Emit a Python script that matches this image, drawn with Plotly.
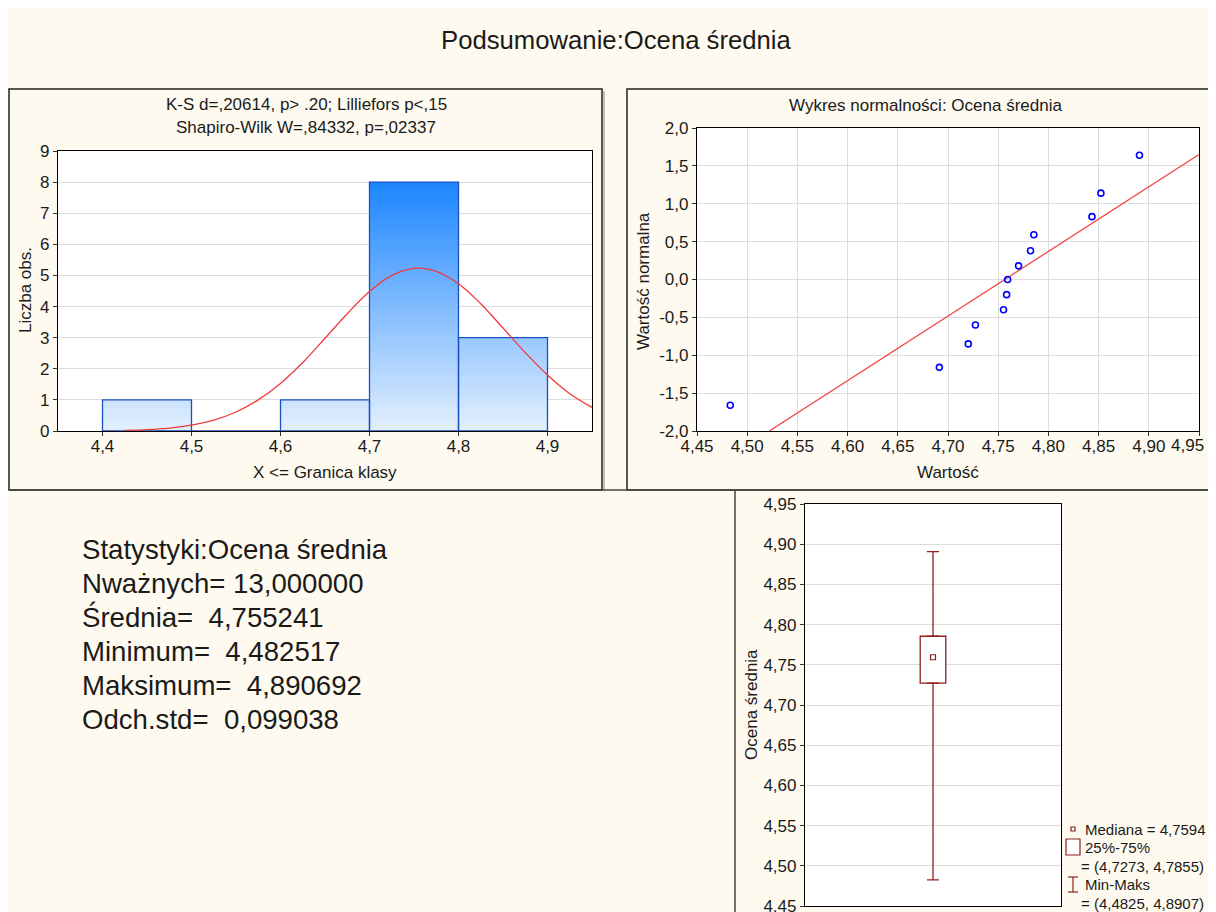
import plotly.graph_objects as go

# ---- data ----
bin_left = [4.4, 4.5, 4.6, 4.7, 4.8]
bin_counts = [1, 0, 1, 8, 3]
bin_width = 0.1

# fitted normal curve (expected counts)
curve_x = [4.425, 4.45, 4.475, 4.5, 4.525, 4.55, 4.575, 4.6, 4.625, 4.65, 4.675,
           4.7, 4.725, 4.75, 4.775, 4.8, 4.825, 4.85, 4.875, 4.9, 4.925, 4.95]
curve_y = [0.02, 0.045, 0.095, 0.19, 0.35, 0.61, 1.0, 1.53, 2.2, 2.98, 3.77,
           4.48, 5.0, 5.23, 5.13, 4.73, 4.09, 3.31, 2.52, 1.8, 1.2, 0.76]

hist_header = ["K-S d=,20614, p> .20; Lilliefors p<,15",
               "Shapiro-Wilk W=,84332, p=,02337"]

obs_values = [4.4831, 4.6914, 4.7202, 4.7273, 4.7553, 4.7584, 4.7594,
              4.7703, 4.7822, 4.7855, 4.8434, 4.8523, 4.8907]
normal_scores = [-1.66, -1.16, -0.85, -0.60, -0.40, -0.20, 0.0,
                 0.18, 0.38, 0.59, 0.83, 1.14, 1.64]
fit_x = [4.522, 4.95]
fit_y = [-2.0, 1.65]

box_median = 4.7594
box_q1, box_q3 = 4.7273, 4.7855
box_min, box_max = 4.4825, 4.8907

stat_labels = ["Statystyki:Ocena średnia", "Nważnych=", "Średnia=", "Minimum=",
               "Maksimum=", "Odch.std="]
stat_values = ["", " 13,000000", "  4,755241", "  4,482517", "  4,890692", "  0,099038"]

legend_lines = ["Mediana = 4,7594", "25%-75%", "= (4,7273, 4,7855)",
                "Min-Maks", "= (4,4825, 4,8907)"]

hist_xticks = [4.4, 4.5, 4.6, 4.7, 4.8, 4.9]
hist_xlabels = ["4,4", "4,5", "4,6", "4,7", "4,8", "4,9"]
hist_yticks = [0, 1, 2, 3, 4, 5, 6, 7, 8, 9]

norm_xticks = [4.45, 4.5, 4.55, 4.6, 4.65, 4.7, 4.75, 4.8, 4.85, 4.9, 4.95]
norm_xlabels = ["4,45", "4,50", "4,55", "4,60", "4,65", "4,70", "4,75", "4,80",
                "4,85", "4,90", "4,95"]
norm_yticks = [-2.0, -1.5, -1.0, -0.5, 0.0, 0.5, 1.0, 1.5, 2.0]
norm_ylabels = ["-2,0", "-1,5", "-1,0", "-0,5", "0,0", "0,5", "1,0", "1,5", "2,0"]

box_yticks = norm_xticks
box_ylabels = norm_xlabels

FONT = "Liberation Sans, Arial, sans-serif"
TXT = "#1a1a1a"
BEIGE = "#FFFAEF"
MAROON = "#8E1F1F"
FS = 17

# figure size; the page puts it 8px in from the top-left corner
W, H = 1216, 912
OX, OY = 8, 8


def px(x):
    # screen pixel -> paper x
    return (x - OX) / W


def py(y):
    return 1 - (y - OY) / H


def grad(t, top=8.0):
    f = max(0.0, min(1.0, t / top))
    r = 228 + (28 - 228) * f
    g = 240 + (134 - 240) * f
    b = 254 + (255 - 254) * f
    return f"rgb({r:.0f},{g:.0f},{b:.0f})"


fig = go.Figure()

# ---- histogram: nested bars give a vertical gradient ----
step = 0.05
gx, gy, gc = [], [], []
for left, c in zip(bin_left, bin_counts):
    n = int(round(c / step))
    for k in range(n, 0, -1):
        gx.append(left + bin_width / 2)
        gy.append(k * step)
        gc.append(grad(k * step - step / 2))
fig.add_trace(go.Bar(x=gx, y=gy, base=0, width=bin_width,
                     marker=dict(color=gc, line=dict(width=0)),
                     xaxis="x", yaxis="y", showlegend=False, hoverinfo="skip"))
fig.add_trace(go.Bar(x=[l + bin_width / 2 for l in bin_left], y=bin_counts, base=0,
                     width=bin_width,
                     marker=dict(color="rgba(0,0,0,0)", line=dict(color="#1a4fbf", width=1.3)),
                     xaxis="x", yaxis="y", showlegend=False))
fig.add_trace(go.Scatter(x=curve_x, y=curve_y, mode="lines", line=dict(color="#f03a3a", width=1.3),
                         line_shape="spline", xaxis="x", yaxis="y", showlegend=False))

# ---- normal probability plot ----
fig.add_trace(go.Scatter(x=fit_x, y=fit_y, mode="lines", line=dict(color="#f04545", width=1.3),
                         xaxis="x2", yaxis="y2", showlegend=False))
fig.add_trace(go.Scatter(x=obs_values, y=normal_scores, mode="markers",
                         marker=dict(symbol="circle-open", size=6, color="#0000ff",
                                     line=dict(width=1.6, color="#0000ff")),
                         xaxis="x2", yaxis="y2", showlegend=False))

# ---- box plot ----
fig.add_trace(go.Bar(x=[0], y=[box_q3 - box_q1], base=[box_q1], width=0.2,
                     marker=dict(color="white", line=dict(color=MAROON, width=1.3)),
                     xaxis="x3", yaxis="y3", showlegend=False))
fig.add_trace(go.Scatter(x=[0, 0], y=[box_q3, box_q1], mode="markers",
                         marker=dict(size=1, color="rgba(0,0,0,0)"),
                         error_y=dict(type="data", symmetric=False,
                                      array=[box_max - box_q3, 0],
                                      arrayminus=[0, box_q1 - box_min],
                                      color=MAROON, thickness=1.3, width=6),
                         xaxis="x3", yaxis="y3", showlegend=False))
fig.add_trace(go.Scatter(x=[0], y=[box_median], mode="markers",
                         marker=dict(symbol="square-open", size=5, color=MAROON,
                                     line=dict(width=1.2, color=MAROON)),
                         xaxis="x3", yaxis="y3", showlegend=False))

axis_common = dict(showline=True, linecolor="black", linewidth=1.2, mirror=True,
                   ticks="outside", ticklen=4, tickcolor="#333", automargin=False,
                   gridcolor="#dcdcdc", gridwidth=1, zeroline=False,
                   tickfont=dict(family=FONT, size=FS, color=TXT))

# the last label sits on the right edge of the page; it is drawn as a note below
norm_xtext = norm_xlabels[:-1] + [""]

fig.update_layout(
    width=W, height=H, margin=dict(l=0, r=0, t=0, b=0, autoexpand=False),
    paper_bgcolor=BEIGE, plot_bgcolor="white", barmode="overlay",
    font=dict(family=FONT, color=TXT),
    xaxis=dict(axis_common, domain=[px(58), px(592)], range=[4.35, 4.95], showgrid=False,
               tickvals=hist_xticks, ticktext=hist_xlabels, anchor="y", ticklabelstandoff=-5),
    yaxis=dict(axis_common, domain=[py(431), py(151)], range=[0, 9],
               tickvals=hist_yticks, anchor="x"),
    xaxis2=dict(axis_common, domain=[px(697), px(1199)], range=[4.45, 4.95],
                tickvals=norm_xticks, ticktext=norm_xtext, anchor="y2", ticklabelstandoff=-5),
    yaxis2=dict(axis_common, domain=[py(431), py(128)], range=[-2.0, 2.0],
                tickvals=norm_yticks, ticktext=norm_ylabels, anchor="x2"),
    xaxis3=dict(axis_common, domain=[px(805), px(1061)], range=[-1, 1], showgrid=False,
                ticks="", showticklabels=False, anchor="y3"),
    yaxis3=dict(axis_common, domain=[py(906), py(504)], range=[4.45, 4.95],
                tickvals=box_yticks, ticktext=box_ylabels, anchor="x3"),
)

# ---- panel frames ----
shapes = [
    dict(type="rect", xref="paper", yref="paper", x0=px(9), x1=px(602), y0=py(490), y1=py(89),
         line=dict(color="#222", width=1.5), layer="below"),
    dict(type="line", xref="paper", yref="paper", x0=px(604), x1=px(604), y0=py(490), y1=py(91),
         line=dict(color="#b0b0a8", width=1.5), layer="below"),
    dict(type="rect", xref="paper", yref="paper", x0=px(627), x1=px(1240), y0=py(490), y1=py(89),
         line=dict(color="#222", width=1.5), layer="below"),
    dict(type="line", xref="paper", yref="paper", x0=px(9), x1=px(1240), y0=py(490), y1=py(490),
         line=dict(color="#444", width=1.5), layer="below"),
    dict(type="line", xref="paper", yref="paper", x0=px(735), x1=px(735), y0=py(490), y1=py(940),
         line=dict(color="#444", width=1.5), layer="below"),
    # legend symbols for the box plot
    dict(type="rect", xref="paper", yref="paper", x0=px(1071), x1=px(1075), y0=py(831), y1=py(827),
         line=dict(color=MAROON, width=1.2), fillcolor="white"),
    dict(type="rect", xref="paper", yref="paper", x0=px(1066), x1=px(1080), y0=py(855), y1=py(839),
         line=dict(color=MAROON, width=1.2), fillcolor="white"),
    dict(type="line", xref="paper", yref="paper", x0=px(1073), x1=px(1073), y0=py(892), y1=py(877),
         line=dict(color=MAROON, width=1.2)),
    dict(type="line", xref="paper", yref="paper", x0=px(1068), x1=px(1078), y0=py(877), y1=py(877),
         line=dict(color=MAROON, width=1.2)),
    dict(type="line", xref="paper", yref="paper", x0=px(1068), x1=px(1078), y0=py(892), y1=py(892),
         line=dict(color=MAROON, width=1.2)),
]
fig.update_layout(shapes=shapes)


def note(text, x, y, size=FS, xanchor="center", angle=0):
    fig.add_annotation(text=text, x=px(x), y=py(y), xref="paper", yref="paper",
                       xanchor=xanchor, yanchor="middle", showarrow=False, textangle=angle,
                       font=dict(family=FONT, size=size, color=TXT))


note("Podsumowanie:Ocena średnia", 616, 40, size=25.7)
note(hist_header[0], 306, 104)
note(hist_header[1], 306, 128)
note("Liczba obs.", 25, 290, angle=-90)
note("X <= Granica klasy", 325, 473)
note("Wykres normalności: Ocena średnia", 925, 106)
note("Wartość normalna", 643, 281, angle=-90)
note("Wartość", 948, 472)
note("Ocena średnia", 751, 705, angle=-90)
note(norm_xlabels[-1], 1206, 445, xanchor="right")

for i, (lab, val) in enumerate(zip(stat_labels, stat_values)):
    note((lab + val).replace(" ", "\u00a0"), 80, 549 + 34 * i, size=27.6, xanchor="left")

legend_pos = [(1083, 829), (1083, 847), (1079, 866), (1083, 884), (1079, 903)]
for text, (lx, ly) in zip(legend_lines, legend_pos):
    note(text, lx, ly, size=15, xanchor="left")

fig.write_html("out.html")
